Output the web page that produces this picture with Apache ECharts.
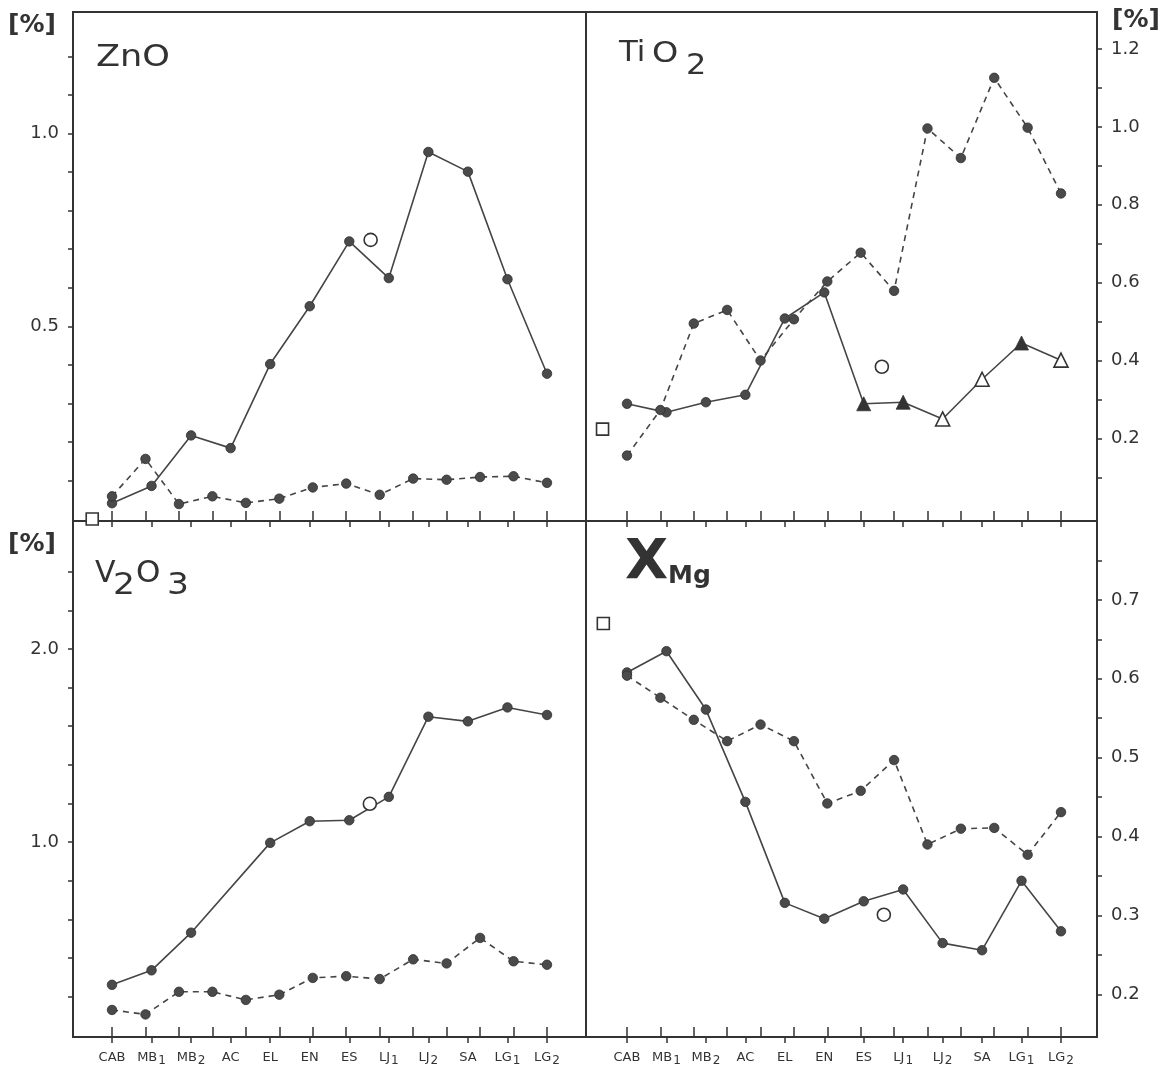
<!DOCTYPE html>
<html>
<head>
<meta charset="utf-8">
<title>ZnO, TiO2, V2O3, XMg</title>
<script src="https://cdn.jsdelivr.net/npm/echarts/dist/echarts.min.js"></script>
<style>
  html, body { margin: 0; padding: 0; background: #ffffff; }
  #chart { width: 1168px; height: 1067px; }
</style>
</head>
<body>
<div id="chart"></div>
<script>
// Sample localities along the x axis (12 labelled stations)
const categories = ['CAB', 'MB1', 'MB2', 'AC', 'EL', 'EN', 'ES', 'LJ1', 'LJ2', 'SA', 'LG1', 'LG2'];
// The dashed profiles use a second, denser set of 14 samples spread over the same span
const denseSamples = [0, 1, 2, 3, 4, 5, 6, 7, 8, 9, 10, 11, 12, 13];

// ZnO [%]
const znoSolid  = [0.041, 0.086, 0.217, 0.184, 0.402, 0.552, 0.720, 0.625, 0.952, 0.901, 0.622, 0.377];
const znoDashed = [0.059, 0.156, 0.039, 0.059, 0.042, 0.053, 0.082, 0.092, 0.063, 0.105, 0.102, 0.109, 0.111, 0.094];
const znoCircle = [6.54, 0.724];
const znoSquare = [-0.5, 0.0];

// TiO2 [%]
const tioSolid  = [0.289, 0.267, 0.293, 0.312, 0.508, 0.575, 0.289, 0.293, 0.250, 0.352, 0.445, 0.401];
const tioSolidMarks = ['dot', 'dot', 'dot', 'dot', 'dot', 'dot', 'tri', 'tri', 'openTri', 'openTri', 'tri', 'openTri'];
const tioDashed = [0.156, 0.273, 0.495, 0.530, 0.400, 0.506, 0.603, 0.677, 0.579, 0.996, 0.920, 1.126, 0.998, 0.829];
const tioCircle = [6.46, 0.384];
const tioSquare = [-0.62, 0.224];

// V2O3 [%]
const vSolid  = [0.261, 0.336, 0.531, null, 0.996, 1.108, 1.113, 1.234, 1.649, 1.625, 1.697, 1.658];
const vDashed = [0.131, 0.108, 0.225, 0.225, 0.183, 0.210, 0.297, 0.306, 0.291, 0.393, 0.372, 0.504, 0.383, 0.365];
const vCircle = [6.52, 1.198];

// X Mg
const xmgSolid  = [0.608, 0.635, 0.561, 0.444, 0.316, 0.296, 0.318, 0.333, 0.265, 0.256, 0.344, 0.280];
const xmgDashed = [0.604, 0.576, 0.548, 0.521, 0.542, 0.521, 0.442, 0.458, 0.497, 0.390, 0.410, 0.411, 0.377, 0.431];
const xmgCircle = [6.51, 0.301];
const xmgSquare = [-0.6, 0.67];

// Axis ticks and labels
const znoTicks  = [0.1, 0.2, 0.3, 0.4, 0.5, 0.6, 0.7, 0.8, 0.9, 1.0, 1.1, 1.2];
const znoLabels = [0.5, 1.0];
const tioTicks  = [0.1, 0.2, 0.3, 0.4, 0.5, 0.6, 0.7, 0.8, 0.9, 1.0, 1.1, 1.2];
const tioLabels = [0.2, 0.4, 0.6, 0.8, 1.0, 1.2];
const vTicks    = [0.2, 0.4, 0.6, 0.8, 1.0, 1.2, 1.4, 1.6, 1.8, 2.0, 2.2, 2.4];
const vLabels   = [1.0, 2.0];
const xmgTicks  = [0.2, 0.25, 0.3, 0.35, 0.4, 0.45, 0.5, 0.55, 0.6, 0.65, 0.7, 0.75];
const xmgLabels = [0.2, 0.3, 0.4, 0.5, 0.6, 0.7];

const INK = '#333333';
const LINE = '#454545';
const DOT = '#4a4a4a';
const FONT = '"DejaVu Sans", "Liberation Sans", sans-serif';

// Horizontal extent of each column, in axis units
const columns = {
  L: { min12: -0.986, max12: 11.986, min14: -1.166, max14: 14.166 },
  R: { min12: -1.039, max12: 11.913, min14: -1.228, max14: 14.078 }
};

const panels = [
  { grid: { left: 73,  top: 12,  width: 513, height: 509 }, col: 'L', yPos: 'left',  yMin: -0.005, yMax: 1.315, ticks: znoTicks, labels: znoLabels, xLabels: false },
  { grid: { left: 586, top: 12,  width: 511, height: 509 }, col: 'R', yPos: 'right', yMin: -0.012, yMax: 1.295, ticks: tioTicks, labels: tioLabels, xLabels: false },
  { grid: { left: 73,  top: 521, width: 513, height: 517 }, col: 'L', yPos: 'left',  yMin: -0.009, yMax: 2.662, ticks: vTicks,   labels: vLabels,   xLabels: true },
  { grid: { left: 586, top: 521, width: 511, height: 517 }, col: 'R', yPos: 'right', yMin: 0.146,  yMax: 0.800, ticks: xmgTicks, labels: xmgLabels, xLabels: true }
];

function categoryLabel(v) {
  const name = categories[Math.round(v)] || '';
  const m = name.match(/^(\D+)(\d)$/);
  return m ? '{b|' + m[1] + '}{s|' + m[2] + '}' : '{b|' + name + '}';
}

const grids = [], xAxes = [], yAxes = [];
panels.forEach((p, g) => {
  const c = columns[p.col];
  grids.push(Object.assign({ show: true, borderColor: INK, borderWidth: 2, backgroundColor: 'transparent' }, p.grid));
  xAxes.push({
    type: 'value', gridIndex: g, position: 'bottom', min: c.min12, max: c.max12,
    axisLine: { show: false, onZero: false }, splitLine: { show: false },
    axisTick: { show: true, inside: false, length: 6, customValues: categories.map((_, i) => i), lineStyle: { color: INK, width: 1.5 } },
    axisLabel: {
      show: p.xLabels, customValues: categories.map((_, i) => i), margin: 14,
      formatter: categoryLabel,
      rich: {
        b: { fontFamily: FONT, fontSize: 13, color: INK, lineHeight: 16, verticalAlign: 'top' },
        s: { fontFamily: FONT, fontSize: 12, color: INK, lineHeight: 16, verticalAlign: 'top', padding: [4, 0, 0, 1] }
      }
    }
  });
  xAxes.push({
    type: 'value', gridIndex: g, position: 'bottom', min: c.min14, max: c.max14,
    axisLine: { show: false, onZero: false }, splitLine: { show: false },
    axisTick: { show: true, inside: true, length: 10, customValues: denseSamples, lineStyle: { color: INK, width: 1.5 } },
    axisLabel: { show: false }
  });
  yAxes.push({
    type: 'value', gridIndex: g, position: p.yPos, min: p.yMin, max: p.yMax,
    axisLine: { show: false, onZero: false }, splitLine: { show: false },
    axisTick: { show: true, inside: false, length: 5, customValues: p.ticks, lineStyle: { color: INK, width: 1.5 } },
    axisLabel: {
      customValues: p.labels, margin: 14, fontFamily: FONT, fontSize: 18, color: INK,
      formatter: v => v.toFixed(1)
    }
  });
});

function solidLine(g, values, extra) {
  return Object.assign({
    type: 'line', xAxisIndex: 2 * g, yAxisIndex: g,
    data: values.map((v, i) => [i, v]),
    connectNulls: true, symbol: 'circle', symbolSize: 9.5,
    lineStyle: { color: LINE, width: 1.6 },
    itemStyle: { color: DOT, borderColor: '#2e2e2e', borderWidth: 0.8 },
    z: 3
  }, extra || {});
}
function dashedLine(g, values) {
  return {
    type: 'line', xAxisIndex: 2 * g + 1, yAxisIndex: g,
    data: values.map((v, i) => [i, v]),
    symbol: 'circle', symbolSize: 9.5,
    lineStyle: { color: LINE, width: 1.6, type: [6, 5] },
    itemStyle: { color: DOT, borderColor: '#2e2e2e', borderWidth: 0.8 },
    z: 3
  };
}
function openMark(g, point, symbol, size) {
  return {
    type: 'scatter', xAxisIndex: 2 * g, yAxisIndex: g, clip: false,
    data: [point], symbol: symbol, symbolSize: size,
    itemStyle: { color: '#ffffff', borderColor: INK, borderWidth: 1.6, opacity: 1 },
    z: 5
  };
}

// TiO2 solid profile: dots, filled and open triangles
const tioSolidData = tioSolid.map((v, i) => {
  const kind = tioSolidMarks[i];
  if (kind === 'tri') return { value: [i, v], symbol: 'triangle', symbolSize: 14, itemStyle: { color: '#333333', borderColor: '#333333' } };
  if (kind === 'openTri') return { value: [i, v], symbol: 'triangle', symbolSize: 14, itemStyle: { color: '#ffffff', borderColor: INK, borderWidth: 1.6 } };
  return { value: [i, v] };
});

const series = [
  solidLine(0, znoSolid), dashedLine(0, znoDashed),
  openMark(0, znoCircle, 'circle', 13), openMark(0, znoSquare, 'rect', 12),

  solidLine(1, tioSolid, { data: tioSolidData }), dashedLine(1, tioDashed),
  openMark(1, tioCircle, 'circle', 13), openMark(1, tioSquare, 'rect', 12),

  solidLine(2, vSolid), dashedLine(2, vDashed),
  openMark(2, vCircle, 'circle', 13),

  solidLine(3, xmgSolid), dashedLine(3, xmgDashed),
  openMark(3, xmgCircle, 'circle', 13), openMark(3, xmgSquare, 'rect', 12)
];

// Text helper; stretch widens the lettering horizontally
function txt(x, y, text, size, weight, stretch) {
  return {
    type: 'text', x: x, y: y, silent: true, scaleX: stretch || 1,
    style: { text: text, font: (weight || 'normal') + ' ' + size + 'px ' + FONT, fill: INK, textVerticalAlign: 'middle' }
  };
}

const graphic = [
  // unit labels
  txt(8, 25, '[%]', 25, 'bold'),
  txt(8, 544, '[%]', 25, 'bold'),
  txt(1112, 20, '[%]', 25, 'bold'),
  // panel titles
  txt(96, 58, 'ZnO', 30, 'normal', 1.17),
  txt(619, 54, 'Ti', 28, 'normal', 1.1),
  txt(652, 54, 'O', 29, 'normal', 1.15),
  txt(686, 66, '2', 29, 'normal', 1.1),
  txt(95, 574, 'V', 30),
  txt(113, 586, '2', 30, 'normal', 1.15),
  txt(136, 574, 'O', 31),
  txt(167, 586, '3', 30, 'normal', 1.15),
  txt(625, 563, 'X', 56, 'bold'),
  txt(668, 576, 'Mg', 25, 'bold')
];

const chart = echarts.init(document.getElementById('chart'), null, { renderer: 'canvas' });
chart.setOption({
  backgroundColor: '#ffffff',
  animation: false,
  grid: grids,
  xAxis: xAxes,
  yAxis: yAxes,
  series: series,
  graphic: graphic
});
</script>
</body>
</html>
